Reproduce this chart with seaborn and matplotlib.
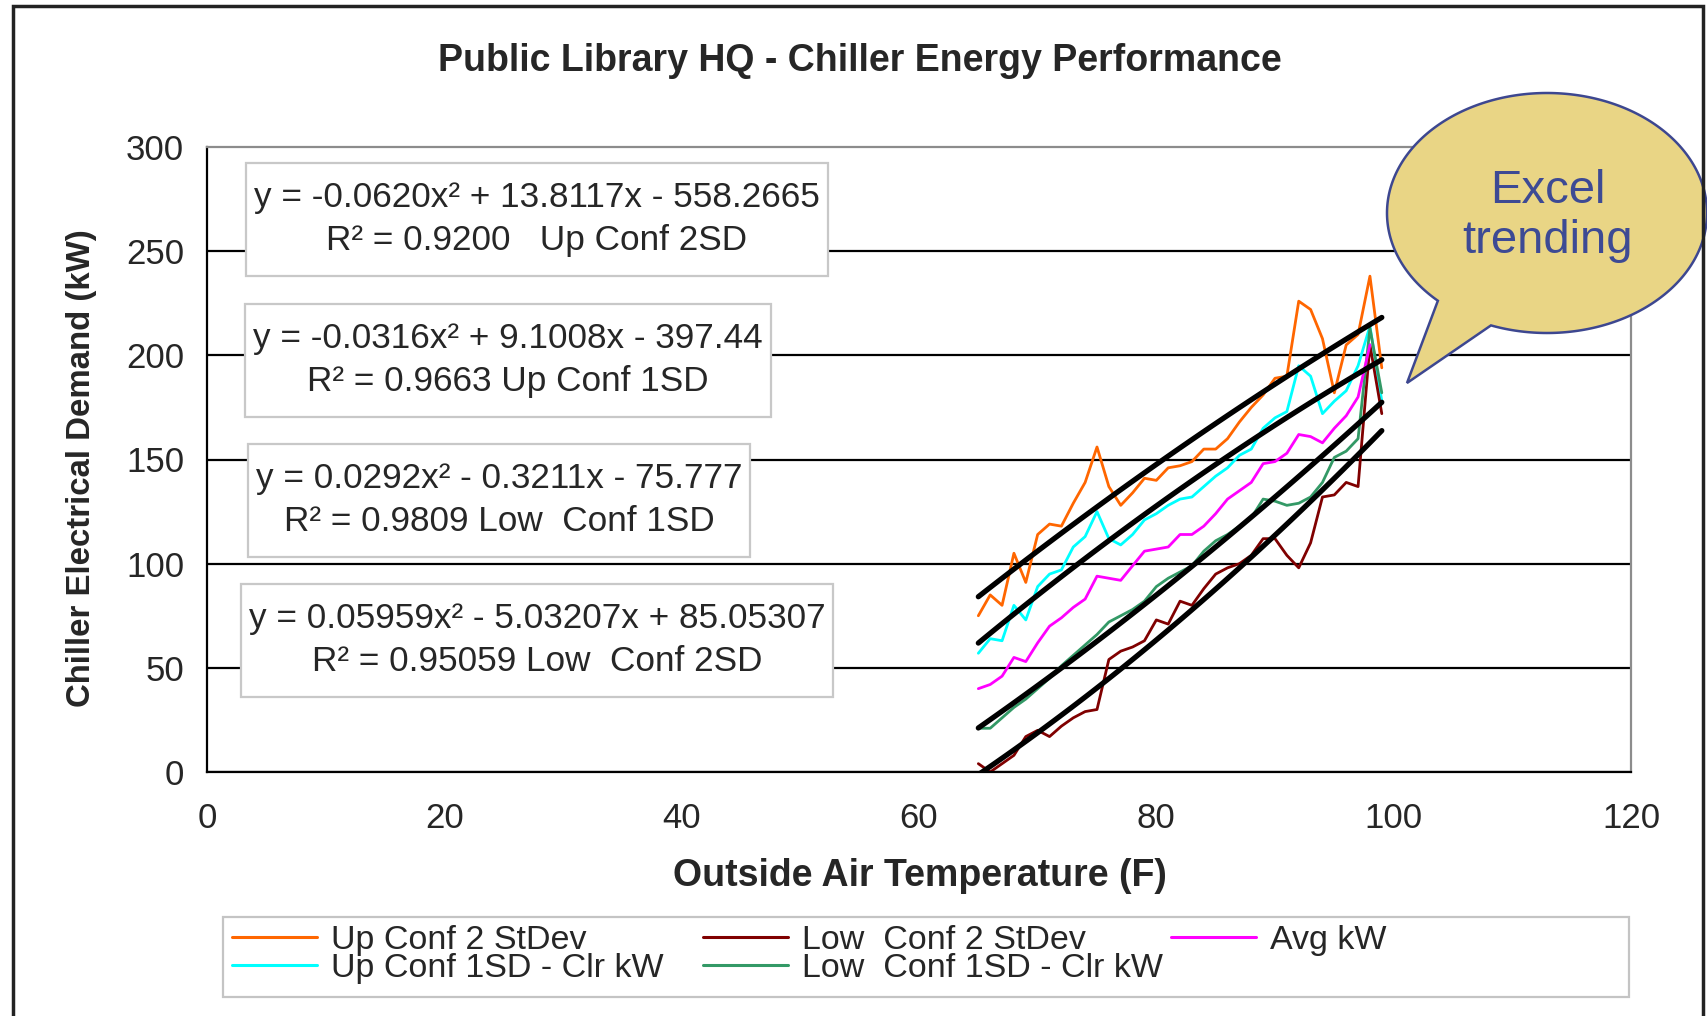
import numpy as np
import pandas as pd
import matplotlib
matplotlib.use("Agg")
import matplotlib.pyplot as plt
import seaborn as sns
from matplotlib.patches import Rectangle, PathPatch
from matplotlib.path import Path
from matplotlib.lines import Line2D

# Outside air temperature (F)
temps = list(range(65, 100))

# Chiller electrical demand (kW) by band
up_conf_2sd = [75, 85, 80, 105, 91, 114, 119, 118, 129, 139, 156, 137, 128, 134, 141,
               140, 146, 147, 149, 155, 155, 160, 168, 175, 181, 189, 190, 226, 222, 208,
               182, 205, 210, 238, 194]
up_conf_1sd = [57, 64, 63, 80, 73, 89, 95, 97, 108, 113, 125, 112, 109, 114, 121,
               124, 128, 131, 132, 137, 142, 146, 152, 155, 165, 170, 173, 195, 190, 172,
               178, 183, 195, 214, 178]
avg_kw = [40, 42, 46, 55, 53, 62, 70, 74, 79, 83, 94, 93, 92, 99, 106,
          107, 108, 114, 114, 118, 124, 131, 135, 139, 148, 149, 153, 162, 161, 158,
          165, 171, 180, 205, np.nan]
low_conf_1sd = [21, 21, 26, 31, 35, 40, 45, 51, 56, 61, 66, 72, 75, 78, 82,
                89, 93, 96, 99, 106, 111, 114, 118, 122, 131, 130, 128, 129, 132, 139,
                151, 154, 160, 213, 182]
low_conf_2sd = [4, 0, 4, 8, 17, 20, 17, 22, 26, 29, 30, 54, 58, 60, 63,
                73, 71, 82, 80, 88, 95, 98, 100, 104, 112, 112, 104, 98, 110, 132,
                133, 139, 137, 205, 172]

series_names = ["Up Conf 2 StDev", "Up Conf 1SD - Clr kW", "Low  Conf 2 StDev",
                "Low  Conf 1SD - Clr kW", "Avg kW"]
series_colors = ["#FF6600", "#00FFFF", "#800000", "#339966", "#FF00FF"]
trend_series = ["Up Conf 2 StDev", "Up Conf 1SD - Clr kW",
                "Low  Conf 1SD - Clr kW", "Low  Conf 2 StDev"]

trend_labels = [
    "y = -0.0620x² + 13.8117x - 558.2665\nR² = 0.9200   Up Conf 2SD",
    "y = -0.0316x² + 9.1008x - 397.44\nR² = 0.9663 Up Conf 1SD",
    "y = 0.0292x² - 0.3211x - 75.777\nR² = 0.9809 Low  Conf 1SD",
    "y = 0.05959x² - 5.03207x + 85.05307\nR² = 0.95059 Low  Conf 2SD",
]

x_ticks = [0, 20, 40, 60, 80, 100, 120]
y_ticks = [0, 50, 100, 150, 200, 250, 300]

W, H = 1708, 1016
sns.set_style("white")
plt.rcParams["font.family"] = ["Liberation Sans", "DejaVu Sans"]


def fpos(x, y):
    """Pixel position (from top-left) to figure fraction."""
    return x / W, 1 - y / H


fig = plt.figure(figsize=(W / 100, H / 100), dpi=100)
fig.patch.set_facecolor("white")
ax = fig.add_axes([207 / W, 1 - 772 / H, (1631 - 207) / W, (772 - 147) / H])

df = pd.DataFrame({
    "temp": temps,
    "Up Conf 2 StDev": up_conf_2sd,
    "Up Conf 1SD - Clr kW": up_conf_1sd,
    "Avg kW": avg_kw,
    "Low  Conf 1SD - Clr kW": low_conf_1sd,
    "Low  Conf 2 StDev": low_conf_2sd,
})
long = df.melt(id_vars="temp", var_name="series", value_name="kw")
palette = dict(zip(series_names, series_colors))

sns.lineplot(data=long, x="temp", y="kw", hue="series", hue_order=series_names,
             palette=palette, estimator=None, lw=2, legend=False, ax=ax, zorder=2)

# Second-order polynomial trend lines
for name in trend_series:
    sns.regplot(data=df, x="temp", y=name, order=2, ci=None, scatter=False,
                truncate=True, ax=ax,
                line_kws=dict(color="black", lw=3.8, zorder=3))

ax.set_xlim(0, 120)
ax.set_ylim(0, 300)
ax.set_xticks(x_ticks)
ax.set_yticks(y_ticks)
ax.tick_params(axis="both", labelsize=25, width=1.5, color="black", direction="out")
ax.tick_params(axis="x", length=8.5, pad=13)
ax.tick_params(axis="y", length=6.5, pad=10)
ax.yaxis.grid(True, color="black", lw=1.6)
ax.get_ygridlines()[-1].set_visible(False)
ax.xaxis.grid(False)
for side in ["left", "bottom"]:
    ax.spines[side].set_color("black")
    ax.spines[side].set_linewidth(1.6)
for side in ["top", "right"]:
    ax.spines[side].set_color("#8c8c8c")
    ax.spines[side].set_linewidth(1.6)

ax.set_xlabel("Outside Air Temperature (F)", fontsize=27, fontweight="bold")
ax.set_ylabel("Chiller Electrical Demand (kW)", fontsize=23.8, fontweight="bold")
ax.xaxis.label.set_verticalalignment("center")
ax.yaxis.label.set_verticalalignment("center")
ax.xaxis.set_label_coords(0.5007, -0.167)
ax.yaxis.set_label_coords(-0.0878, 0.486)

fig.text(*fpos(860, 61), "Public Library HQ - Chiller Energy Performance",
         ha="center", va="center", fontsize=27, fontweight="bold")

# Trend equation boxes
box_centers = [(537, 219), (508, 360), (499, 500), (537, 640)]
eq_texts = []
for (cx, cy), label in zip(box_centers, trend_labels):
    t = fig.text(*fpos(cx, cy), label, ha="center", va="center",
                 multialignment="center", fontsize=25.3, linespacing=1.38,
                 zorder=4)
    eq_texts.append(t)

fig.canvas.draw()
renderer = fig.canvas.get_renderer()
for t in eq_texts:
    bb = t.get_window_extent(renderer)
    pad_x = 8
    pad_y = max(2, (113 - bb.height) / 2)
    rect = Rectangle((bb.x0 - pad_x, bb.y0 - pad_y), bb.width + 2 * pad_x,
                     bb.height + 2 * pad_y, transform=None, facecolor="white",
                     edgecolor="#c8c8c8", lw=1.6, zorder=3)
    fig.add_artist(rect)

# Legend: three columns at fixed positions inside one frame
frame_x0, frame_y0 = fpos(223, 997)
fig.add_artist(Rectangle((frame_x0, frame_y0), (1629 - 223) / W, (997 - 917) / H,
                         transform=fig.transFigure, facecolor="white",
                         edgecolor="#c4c4c4", lw=1.6, zorder=2))
handles = {n: Line2D([], [], color=c, lw=2.2) for n, c in zip(series_names, series_colors)}
legend_columns = [
    (232, ["Up Conf 2 StDev", "Up Conf 1SD - Clr kW"]),
    (703, ["Low  Conf 2 StDev", "Low  Conf 1SD - Clr kW"]),
    (1171, ["Avg kW"]),
]
for x0, names in legend_columns:
    leg = fig.legend([handles[n] for n in names], names, loc="upper left",
                     bbox_to_anchor=fpos(x0, 925), bbox_transform=fig.transFigure,
                     frameon=False, borderpad=0, borderaxespad=0, handlelength=2.5,
                     handletextpad=0.4, labelspacing=-0.1, fontsize=24.5)
    leg.set_zorder(5)

# Callout bubble
cx, cy = fpos(1547, 213)
a, b = 160 / W, 120 / H
t_param = np.linspace(np.deg2rad(249.5), np.deg2rad(227 + 360), 300)
ex = cx + a * np.cos(t_param)
ey = cy + b * np.sin(t_param)
tip = fpos(1407, 383)
verts = list(zip(ex, ey)) + [tip, (ex[0], ey[0])]
codes = [Path.MOVETO] + [Path.LINETO] * (len(verts) - 2) + [Path.CLOSEPOLY]
fig.add_artist(PathPatch(Path(verts, codes), transform=fig.transFigure,
                         facecolor="#E9D585", edgecolor="#3D4790", lw=1.8, zorder=6))
fig.text(*fpos(1548, 216), "Excel\ntrending", ha="center", va="center",
         fontsize=34, color="#3D4A94", linespacing=1.2, zorder=7)

# Outer frame
fig.add_artist(Rectangle(fpos(13, 1030), (1703 - 13) / W, (1030 - 6) / H,
                         transform=fig.transFigure, fill=False, edgecolor="#222222",
                         lw=2.5, zorder=8))

fig.savefig("out.png", dpi=100, facecolor="white")
